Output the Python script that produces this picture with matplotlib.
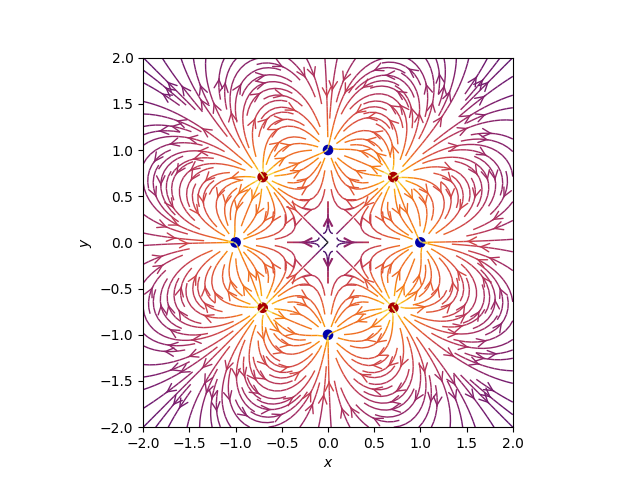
import numpy as np
import matplotlib
matplotlib.use("Agg")
import matplotlib.pyplot as plt
from matplotlib.patches import Circle

# charges: sign and place on the unit circle (eighths of a turn)
charge_q = [-1, 1, -1, 1, -1, 1, -1, 1]
charge_pos = [0, 1, 2, 3, 4, 5, 6, 7]
charge_x = [np.cos(2 * np.pi * i / 8) for i in charge_pos]
charge_y = [np.sin(2 * np.pi * i / 8) for i in charge_pos]

nx, ny = 64, 64
x = np.linspace(-2, 2, nx)
y = np.linspace(-2, 2, ny)
X, Y = np.meshgrid(x, y)

# add up the field of every charge on the grid
# tiny x shift only decides which way the lines meet at the centre saddle
shift = 1e-10
Ex, Ey = np.zeros((ny, nx)), np.zeros((ny, nx))
for q, cx, cy in zip(charge_q, charge_x, charge_y):
    dx = X - cx - shift
    dy = Y - cy
    den = np.hypot(dx, dy)**3
    Ex += q * dx / den
    Ey += q * dy / den

fig = plt.figure()
ax = fig.add_subplot(111)

color = 2 * np.log(np.hypot(Ex, Ey))
ax.streamplot(x, y, Ex, Ey, color=color, linewidth=1, cmap=plt.cm.inferno,
              density=2, arrowstyle='->', arrowsize=1.5)

# filled circles for the charges
charge_colors = {True: '#aa0000', False: '#0000aa'}
for q, cx, cy in zip(charge_q, charge_x, charge_y):
    ax.add_artist(Circle((cx, cy), 0.05, color=charge_colors[q > 0]))

ax.set_xlabel('$x$')
ax.set_ylabel('$y$')
ax.set_xlim(-2, 2)
ax.set_ylim(-2, 2)
ax.set_aspect('equal')
plt.savefig("out.png")
